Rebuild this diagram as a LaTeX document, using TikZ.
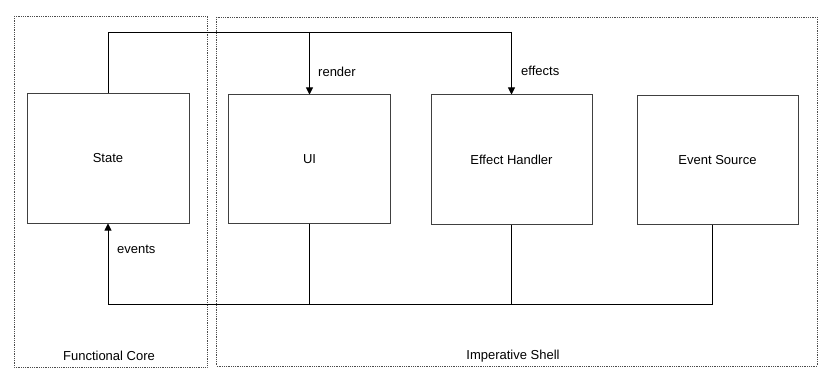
\documentclass[tikz,border=0pt]{standalone}
\usepackage{fontspec}
\setmainfont{Liberation Sans}
\usetikzlibrary{arrows.meta}
\begin{document}
\begin{tikzpicture}[x=1pt,y=-1pt,
  every node/.style={font=\fontsize{13}{15}\selectfont},
  region/.style={draw=black!70, densely dotted, line width=0.8pt},
  blockbox/.style={draw=black!75, line width=1pt, fill=white, inner sep=0pt},
  conn/.style={draw=black, line width=0.9pt},
  arr/.style={conn, -{Triangle[length=7pt,width=7pt]}},
  lbl/.style={anchor=west, inner sep=0pt}]
\useasboundingbox (0,0) rectangle (833,385);
\draw[region] (14,16) rectangle (207,367);
\draw[region] (216.5,17) rectangle (817,366);
\node[lbl, anchor=center] (fc) at (109,356) {Functional Core};
\node[lbl, anchor=center] (is) at (513,356) {Imperative Shell};
\node[blockbox, minimum width=162pt, minimum height=129pt] (state) at (108,158.5) {State};
\node[blockbox, minimum width=162pt, minimum height=128pt] (ui) at (309.5,159) {UI};
\node[blockbox, minimum width=161pt, minimum height=129pt] (eh) at (511.5,159.5) {Effect Handler};
\node[blockbox, minimum width=161pt, minimum height=128pt] (es) at (717.5,160) {Event Source};
\coordinate (top) at (108,32);
\coordinate (bot) at (108,304);
\coordinate (esx) at (712,0);
% top
\draw[conn] (state.north) -- (top) -| (eh.north);
\draw[arr] (top -| ui.north) -- (ui.north);
\draw[arr] (top -| eh.north) -- (eh.north);
% bottom
\draw[conn] (esx |- es.south) |- (bot);
\draw[conn] (ui.south) -- (bot -| ui.south);
\draw[conn] (eh.south) -- (bot -| eh.south);
\draw[arr] (bot) -- (state.south);
\node[lbl] (lr) at (318,72) {render};
\node[lbl] (le) at (521,71) {effects};
\node[lbl] (lv) at (117,249) {events};
\end{tikzpicture}
\end{document}
